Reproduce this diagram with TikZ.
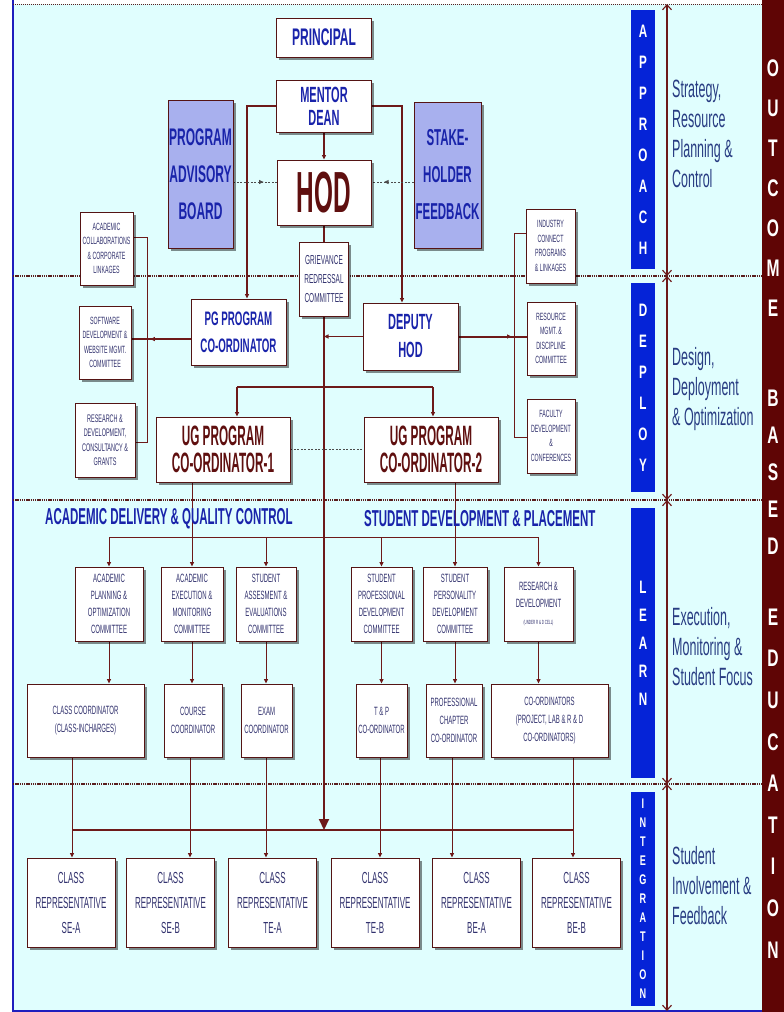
\documentclass[tikz,border=0pt]{standalone}
\usepackage{fontspec}
\setmainfont{Liberation Sans}
\newfontfamily\cn[FakeStretch=0.5]{Liberation Sans}
\newfontfamily\cnn[FakeStretch=0.42]{Liberation Sans}
\newfontfamily\cw[FakeStretch=0.65]{Liberation Sans}
\usetikzlibrary{arrows.meta,shadows,calc,decorations.markings}
\definecolor{bgc}{RGB}{224,254,254}
\definecolor{lnc}{RGB}{110,25,25}
\definecolor{boxc}{RGB}{85,20,20}
\definecolor{ttl}{RGB}{25,35,170}
\definecolor{lav}{RGB}{168,176,238}
\definecolor{bandb}{RGB}{5,35,215}
\definecolor{bandm}{RGB}{95,5,5}
\definecolor{smt}{RGB}{50,50,110}
\definecolor{sidet}{RGB}{40,60,130}
\definecolor{mrt}{RGB}{95,15,15}
\definecolor{brd}{RGB}{30,30,190}
\definecolor{sepc}{RGB}{90,30,30}
\pgfdeclarelayer{bg}
\pgfdeclarelayer{lines}
\pgfsetlayers{bg,lines,main}
\tikzset{
  box/.style={draw=boxc, line width=0.9pt, fill=white, inner sep=1pt, align=center,
     drop shadow={shadow xshift=2.5pt, shadow yshift=-2.5pt, opacity=0.45, fill=black}},
  smbox/.style={box, text=smt, font={\cn\fontsize{10.5}{14.5}\selectfont}},
  cmbox/.style={box, text=smt, font={\cn\fontsize{12}{17}\selectfont}, minimum height=74pt},
  crdbox/.style={box, text=smt, font={\cn\fontsize{12}{18}\selectfont}, minimum height=73pt},
  repbox/.style={box, text=smt, font={\cn\fontsize{16}{25}\selectfont}, minimum width=88pt, minimum height=89pt},
  ttlbox/.style={box, text=ttl},
  lavbox/.style={box, fill=lav, text=ttl, font={\cn\bfseries\fontsize{24}{37}\selectfont}},
  ln/.style={draw=lnc, line width=1pt},
  lnb/.style={draw=lnc, line width=1.5pt},
  lnt/.style={draw=lnc, line width=2pt},
  arr/.style={-{Triangle[length=4.5pt,width=4pt]}},
  dashln/.style={draw=black!70, line width=1pt, dash pattern=on 2pt off 1.5pt},
  sepline/.style={draw=sepc, line width=2.6pt, dash pattern=on 1.3pt off 0.9pt},
  dbl/.style={draw=lnc, line width=1.1pt, {Straight Barb[length=5pt,width=9pt]}-{Straight Barb[length=5pt,width=9pt]}},
  bandtxt/.style={fill=bandb, text=white, inner sep=0pt, align=center, minimum width=24pt},
  sidetxt/.style={text=sidet, anchor=west, align=left, inner sep=0pt, font={\cn\fontsize{25}{30}\selectfont}},
  owl/.style={text=white, inner sep=0pt, align=center},
  headtxt/.style={text=ttl, anchor=west, inner sep=0pt, font={\cn\bfseries\fontsize{23}{23}\selectfont}},
  midarr/.style={postaction={decorate, decoration={markings, mark=at position #1 with {\arrow{Triangle[length=4.5pt,width=4pt]}}}}},
}
\begin{document}
\begin{tikzpicture}[x=1pt,y=-1pt]
\useasboundingbox (0,0) rectangle (784,1012);
\begin{pgfonlayer}{bg}
\fill[white] (0,0) rectangle (784,1012);
\fill[bgc] (13,4) rectangle (762,1011);
\fill[bandm] (762,0) rectangle (784,1012);
\draw[brd, line width=1.6pt] (13,0) -- (13,1011) -- (762,1011);
\draw[sepc, line width=0.9pt, dash pattern=on 1pt off 1pt] (13,4) -- (762,4);
\draw[sepline] (13,276) -- (762,276);
\draw[sepline] (13,500) -- (762,500);
\draw[sepline] (13,784) -- (762,784);
\coordinate (d0) at (667,4);
\coordinate (d1) at (667,276);
\coordinate (d2) at (667,500);
\coordinate (d3) at (667,784);
\coordinate (d4) at (667,1011);
\draw[dbl] (d0) -- (d1);
\draw[dbl] (d1) -- (d2);
\draw[dbl] (d2) -- (d3);
\draw[dbl] (d3) -- (d4);
\end{pgfonlayer}

% right band words
\node[owl, font={\cw\bfseries\fontsize{24}{40}\selectfont}] (wO) at (773,188) {O\\U\\T\\C\\O\\M\\E};
\node[owl, font={\cw\bfseries\fontsize{24}{37}\selectfont}] (wB) at (773,472) {B\\A\\S\\E\\D};
\node[owl, font={\cw\bfseries\fontsize{24}{41.6}\selectfont}] (wE) at (773,783.5) {E\\D\\U\\C\\A\\T\\I\\O\\N};

% blue bands
\node[bandtxt, minimum height=259pt, font={\cw\bfseries\fontsize{18}{31}\selectfont}] (bA) at (643,139.5) {A\\P\\P\\R\\O\\A\\C\\H};
\node[bandtxt, minimum height=209pt, font={\cw\bfseries\fontsize{18}{31}\selectfont}] (bD) at (643,387.5) {D\\E\\P\\L\\O\\Y};
\node[bandtxt, minimum height=270pt, font={\cw\bfseries\fontsize{18}{28}\selectfont}] (bL) at (643,643) {L\\E\\A\\R\\N};
\node[bandtxt, minimum height=214pt, font={\cw\bfseries\fontsize{14}{19}\selectfont}] (bI) at (643,899) {I\\N\\T\\E\\G\\R\\A\\T\\I\\O\\N};

% side texts
\node[sidetxt] (s1) at (672,134) {Strategy,\\Resource\\Planning \&\\Control};
\node[sidetxt] (s2) at (672,389) {Design,\\Deployment\\\& Optimization};
\node[sidetxt] (s3) at (672,647) {Execution,\\Monitoring \&\\Student Focus};
\node[sidetxt] (s4) at (672,886) {Student\\Involvement \&\\Feedback};

% top part
\node[ttlbox, font={\cn\bfseries\fontsize{24}{24}\selectfont}, minimum width=95pt, minimum height=39pt] (principal) at (324,37.5) {PRINCIPAL};
\node[ttlbox, font={\cn\bfseries\fontsize{22}{23}\selectfont}, minimum width=95pt, minimum height=52pt] (mentor) at (324,106) {MENTOR\\DEAN};
\node[box, text=mrt, font={\cnn\bfseries\fontsize{58}{58}\selectfont}, minimum width=94pt, minimum height=65pt] (hod) at (324,192.5) {HOD};
\node[lavbox, minimum width=65pt, minimum height=148pt] (pab) at (200.5,174) {PROGRAM\\ADVISORY\\BOARD};
\node[lavbox, font={\cn\bfseries\fontsize{23}{37}\selectfont}, minimum width=67pt, minimum height=146pt] (shf) at (447.5,175) {STAKE-\\HOLDER\\FEEDBACK};
\node[box, text=smt, font={\cn\fontsize{13}{19}\selectfont}, minimum width=49pt, minimum height=74pt] (grc) at (324,279) {GRIEVANCE\\REDRESSAL\\COMMITTEE};

\node[smbox, minimum width=53pt, minimum height=73pt] (acl) at (106.5,248.5) {ACADEMIC\\COLLABORATIONS\\\& CORPORATE\\LINKAGES};
\node[smbox, minimum width=52pt, minimum height=73pt] (sdw) at (105,342.5) {SOFTWARE\\DEVELOPMENT \&\\WEBSITE MGMT.\\COMMITTEE};
\node[smbox, font={\cn\fontsize{11}{14.5}\selectfont}, minimum width=60pt, minimum height=74pt] (rnd) at (105,440) {RESEARCH \&\\DEVELOPMENT,\\CONSULTANCY \&\\GRANTS};
\node[smbox, minimum width=49pt, minimum height=74pt] (ind) at (550.5,246) {INDUSTRY\\CONNECT\\PROGRAMS\\\& LINKAGES};
\node[smbox, minimum width=48pt, minimum height=73pt] (res) at (551,338.5) {RESOURCE\\MGMT. \&\\DISCIPLINE\\COMMITTEE};
\node[smbox, minimum width=48pt, minimum height=74pt] (fac) at (551,436) {FACULTY\\DEVELOPMENT\\\&\\CONFERENCES};

\node[ttlbox, font={\cn\bfseries\fontsize{19.5}{27}\selectfont}, minimum width=95pt, minimum height=66pt] (pg) at (238.5,332) {PG PROGRAM\\CO-ORDINATOR};
\node[ttlbox, font={\cn\bfseries\fontsize{22}{28}\selectfont}, minimum width=95pt, minimum height=67pt] (dhod) at (410.5,336.5) {DEPUTY\\HOD};
\node[box, text=mrt, font={\cnn\bfseries\fontsize{28}{27}\selectfont}, minimum width=134pt, minimum height=65pt] (ug1) at (223,449.5) {UG PROGRAM\\CO-ORDINATOR-1};
\node[box, text=mrt, font={\cnn\bfseries\fontsize{28}{27}\selectfont}, minimum width=134pt, minimum height=65pt] (ug2) at (431,449.5) {UG PROGRAM\\CO-ORDINATOR-2};

% headings
\node[headtxt] (hd1) at (45,519) {ACADEMIC DELIVERY \& QUALITY CONTROL};
\node[headtxt] (hd2) at (364,519) {STUDENT DEVELOPMENT \& PLACEMENT};

% committees
\node[cmbox, minimum width=68pt] (c1) at (109,604) {ACADEMIC\\PLANNING \&\\OPTIMIZATION\\COMMITTEE};
\node[cmbox, minimum width=62pt] (c2) at (192,604) {ACADEMIC\\EXECUTION \&\\MONITORING\\COMMITTEE};
\node[cmbox, minimum width=60pt] (c3) at (266,604) {STUDENT\\ASSESMENT \&\\EVALUATIONS\\COMMITTEE};
\node[cmbox, minimum width=61pt] (c4) at (381.5,604) {STUDENT\\PROFESSIONAL\\DEVELOPMENT\\COMMITTEE};
\node[cmbox, minimum width=64pt] (c5) at (455,604) {STUDENT\\PERSONALITY\\DEVELOPMENT\\COMMITTEE};
\node[cmbox, minimum width=69pt] (c6) at (538.5,604) {RESEARCH \&\\DEVELOPMENT\\{\fontsize{6}{8}\selectfont (UNDER R \& D CELL)}};

% coordinators
\node[crdbox, minimum width=117pt] (r1) at (85.5,720.5) {CLASS COORDINATOR\\(CLASS-INCHARGES)};
\node[crdbox, minimum width=58pt] (r2) at (193,720.5) {COURSE\\COORDINATOR};
\node[crdbox, minimum width=51pt] (r3) at (266.5,720.5) {EXAM\\COORDINATOR};
\node[crdbox, minimum width=51pt] (r4) at (381.5,720.5) {T \& P\\CO-ORDINATOR};
\node[crdbox, minimum width=56pt] (r5) at (454,720.5) {PROFESSIONAL\\CHAPTER\\CO-ORDINATOR};
\node[crdbox, minimum width=117pt] (r6) at (549.5,720.5) {CO-ORDINATORS\\(PROJECT, LAB \& R \& D\\CO-ORDINATORS)};

% class representatives
\node[repbox] (cr1) at (71,902.5) {CLASS\\REPRESENTATIVE\\SE-A};
\node[repbox] (cr2) at (170.5,902.5) {CLASS\\REPRESENTATIVE\\SE-B};
\node[repbox] (cr3) at (272.5,902.5) {CLASS\\REPRESENTATIVE\\TE-A};
\node[repbox] (cr4) at (375,902.5) {CLASS\\REPRESENTATIVE\\TE-B};
\node[repbox] (cr5) at (476.5,902.5) {CLASS\\REPRESENTATIVE\\BE-A};
\node[repbox] (cr6) at (576.5,902.5) {CLASS\\REPRESENTATIVE\\BE-B};

\begin{pgfonlayer}{lines}
\draw[lnb,arr] (mentor.south) -- (hod.north);
\draw[lnt,arr] (mentor.west) -| ([xshift=8.5pt]pg.north);
\draw[lnt,arr] (mentor.east) -| ([xshift=-8.5pt]dhod.north);
\coordinate (dl) at (0,182);
\draw[dashln, midarr=0.7] (pab.east |- dl) -- (hod.west |- dl);
\draw[dashln, midarr=0.7] (shf.west |- dl) -- (hod.east |- dl);
\draw[lnb] (hod.south) -- (grc.north);
\coordinate (cb) at (324,830);
\draw[lnt, -{Triangle[length=11pt,width=10pt]}] (grc.south) -- (cb);
\draw[lnb,arr] (dhod.west) -- (dhod.west -| cb);
\draw[lnt, midarr=0.78] (dhod.east) -- (dhod.east -| res.west);
\coordinate (rb1) at (514,233);
\coordinate (rb2) at (514,437);
\draw[ln] (ind.west |- rb1) -- (rb1) -- (rb2) -- (fac.west |- rb2);
\coordinate (lb1) at (147,237);
\coordinate (lb2) at (147,442);
\draw[ln] (acl.east |- lb1) -- (lb1) -- (lb2) -- (rnd.east |- lb2);
\coordinate (pl) at (0,339);
\draw[lnt, midarr=0.68] (pg.west |- pl) -- (sdw.east |- pl);
\coordinate (ub1) at (237,387);
\coordinate (ub2) at (433,387);
\draw[lnt] (ub1) -- (ub2);
\draw[lnt,arr] (ub1) -- (ub1 |- ug1.north);
\draw[lnt,arr] (ub2) -- (ub2 |- ug2.north);
\draw[dashln] (ug1.east) -- (ug2.west);
\coordinate (kb) at (0,537);
\draw[ln] (c1.north |- kb) -- (c6.north |- kb);
\draw[ln,arr] (c1.north |- kb) -- (c1.north);
\draw[ln,arr] (c3.north |- kb) -- (c3.north);
\draw[ln,arr] (c4.north |- kb) -- (c4.north);
\draw[ln,arr] (c6.north |- kb) -- (c6.north);
\draw[ln,arr] (ug1.south -| c2.north) -- (c2.north);
\draw[ln,arr] (ug2.south -| c5.north) -- (c5.north);
\foreach \i in {1,...,6} {\draw[ln,arr] (c\i.south) -- (c\i.south |- r\i.north);}
\coordinate (bb1) at (72,830);
\coordinate (bb2) at (573,830);
\draw[lnt] (bb1) -- (bb2);
\draw[ln] (r1.south -| bb1) -- (bb1);
\draw[ln,arr] (bb1) -- (bb1 |- cr1.north);
\coordinate (x2) at (190,0);
\coordinate (x3) at (266,0);
\coordinate (x4) at (380,0);
\coordinate (x5) at (452,0);
\coordinate (x6) at (573,0);
\draw[ln,arr] (r2.south -| x2) -- (x2 |- cr2.north);
\draw[ln,arr] (r3.south -| x3) -- (x3 |- cr3.north);
\draw[ln,arr] (r4.south -| x4) -- (x4 |- cr4.north);
\draw[ln,arr] (r5.south -| x5) -- (x5 |- cr5.north);
\draw[ln,arr] (r6.south -| x6) -- (x6 |- cr6.north);
\end{pgfonlayer}
\end{tikzpicture}
\end{document}
